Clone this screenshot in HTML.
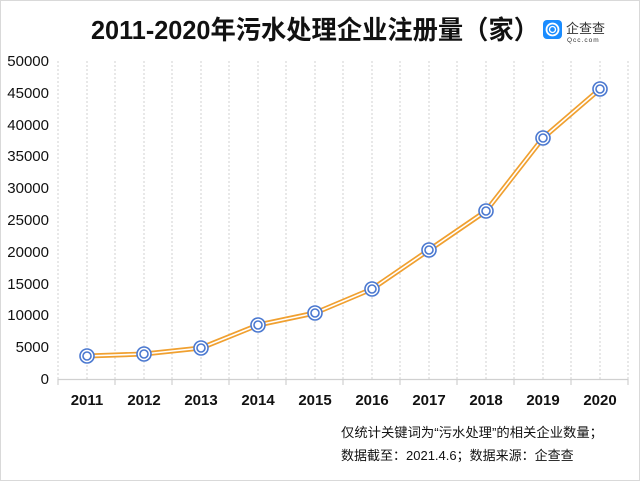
<!DOCTYPE html>
<html><head><meta charset="utf-8"><style>
html,body{margin:0;padding:0;background:#fff;}
body{width:640px;height:481px;overflow:hidden;font-family:"Liberation Sans","Noto Sans CJK SC",sans-serif;}
</style></head><body>
<svg width="640" height="481" xmlns="http://www.w3.org/2000/svg" font-family="Liberation Sans, Noto Sans CJK SC, sans-serif">
<rect x="0.5" y="0.5" width="639" height="480" fill="#fff" stroke="#d9d9d9"/>
<text x="91" y="39" font-size="26" font-weight="bold" fill="#111" textLength="448" lengthAdjust="spacingAndGlyphs">2011-2020年污水处理企业注册量（家）</text>
<rect x="543" y="20" width="19" height="19" rx="4" fill="#1a8cff"/>
<circle cx="552.5" cy="29.5" r="6" fill="none" stroke="#fff" stroke-width="1.8"/>
<circle cx="552.5" cy="29.5" r="3" fill="none" stroke="#fff" stroke-width="1.3"/>
<text x="566" y="33" font-size="13" fill="#333">企查查</text>
<text x="567" y="42" font-size="6.5" fill="#333" letter-spacing="1">Qcc.com</text>
<g stroke="#d0d0d0" stroke-width="1" stroke-dasharray="2,2">
<line x1="58" y1="61" x2="58" y2="379"/><line x1="87" y1="61" x2="87" y2="379"/><line x1="115" y1="61" x2="115" y2="379"/><line x1="144" y1="61" x2="144" y2="379"/><line x1="172" y1="61" x2="172" y2="379"/><line x1="201" y1="61" x2="201" y2="379"/><line x1="229" y1="61" x2="229" y2="379"/><line x1="258" y1="61" x2="258" y2="379"/><line x1="286" y1="61" x2="286" y2="379"/><line x1="315" y1="61" x2="315" y2="379"/><line x1="343" y1="61" x2="343" y2="379"/><line x1="372" y1="61" x2="372" y2="379"/><line x1="400" y1="61" x2="400" y2="379"/><line x1="429" y1="61" x2="429" y2="379"/><line x1="457" y1="61" x2="457" y2="379"/><line x1="486" y1="61" x2="486" y2="379"/><line x1="514" y1="61" x2="514" y2="379"/><line x1="543" y1="61" x2="543" y2="379"/><line x1="571" y1="61" x2="571" y2="379"/><line x1="600" y1="61" x2="600" y2="379"/><line x1="628" y1="61" x2="628" y2="379"/>
</g>
<g stroke="#d0d0d0" stroke-width="1.2">
<line x1="58" y1="379.5" x2="628" y2="379.5"/>
<line x1="58" y1="379" x2="58" y2="385"/><line x1="115" y1="379" x2="115" y2="385"/><line x1="172" y1="379" x2="172" y2="385"/><line x1="229" y1="379" x2="229" y2="385"/><line x1="286" y1="379" x2="286" y2="385"/><line x1="343" y1="379" x2="343" y2="385"/><line x1="400" y1="379" x2="400" y2="385"/><line x1="457" y1="379" x2="457" y2="385"/><line x1="514" y1="379" x2="514" y2="385"/><line x1="571" y1="379" x2="571" y2="385"/><line x1="628" y1="379" x2="628" y2="385"/>
</g>
<g font-size="15" text-anchor="end" fill="#111">
<text x="49" y="66">50000</text><text x="49" y="98">45000</text><text x="49" y="130">40000</text><text x="49" y="161">35000</text><text x="49" y="193">30000</text><text x="49" y="225">25000</text><text x="49" y="257">20000</text><text x="49" y="289">15000</text><text x="49" y="320">10000</text><text x="49" y="352">5000</text><text x="49" y="384">0</text>
</g>
<g font-size="15" font-weight="bold" text-anchor="middle" fill="#111">
<text x="87" y="405">2011</text><text x="144" y="405">2012</text><text x="201" y="405">2013</text><text x="258" y="405">2014</text><text x="315" y="405">2015</text><text x="372" y="405">2016</text><text x="429" y="405">2017</text><text x="486" y="405">2018</text><text x="543" y="405">2019</text><text x="600" y="405">2020</text>
</g>
<polyline points="87,356 144,354 201,348 258,325 315,313 372,289 429,250 486,211 543,138 600,89" fill="none" stroke="#f0a030" stroke-width="5" stroke-linejoin="round"/>
<polyline points="87,356 144,354 201,348 258,325 315,313 372,289 429,250 486,211 543,138 600,89" fill="none" stroke="#fff" stroke-width="1.6" stroke-linejoin="round"/>
<g fill="#fff" stroke="#4a78d0" stroke-width="1.6">
<g><circle cx="87" cy="356" r="7"/><circle cx="87" cy="356" r="4"/></g>
<g><circle cx="144" cy="354" r="7"/><circle cx="144" cy="354" r="4"/></g>
<g><circle cx="201" cy="348" r="7"/><circle cx="201" cy="348" r="4"/></g>
<g><circle cx="258" cy="325" r="7"/><circle cx="258" cy="325" r="4"/></g>
<g><circle cx="315" cy="313" r="7"/><circle cx="315" cy="313" r="4"/></g>
<g><circle cx="372" cy="289" r="7"/><circle cx="372" cy="289" r="4"/></g>
<g><circle cx="429" cy="250" r="7"/><circle cx="429" cy="250" r="4"/></g>
<g><circle cx="486" cy="211" r="7"/><circle cx="486" cy="211" r="4"/></g>
<g><circle cx="543" cy="138" r="7"/><circle cx="543" cy="138" r="4"/></g>
<g><circle cx="600" cy="89" r="7"/><circle cx="600" cy="89" r="4"/></g>
</g>
<text x="341" y="437" font-size="13" fill="#111" textLength="262" lengthAdjust="spacingAndGlyphs">仅统计关键词为“污水处理”的相关企业数量；</text>
<text x="341" y="460" font-size="13" fill="#111">数据截至：2021.4.6；数据来源：企查查</text>
</svg>
</body></html>
